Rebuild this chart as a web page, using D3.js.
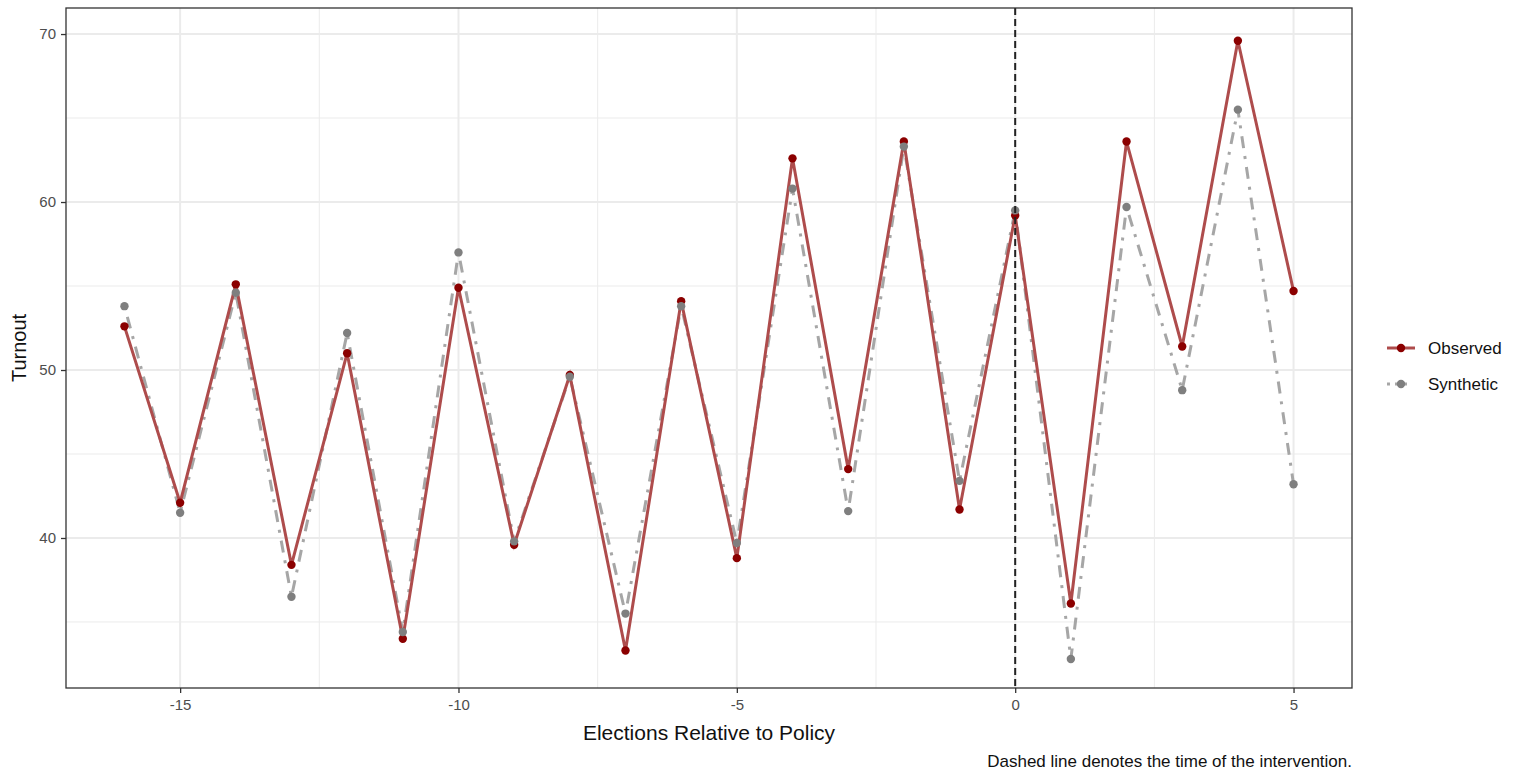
<!DOCTYPE html>
<html>
<head>
<meta charset="utf-8">
<script src="https://cdn.jsdelivr.net/npm/d3@7"></script>
<style>
  body { margin: 0; background: #fff; }
  svg { font-family: "Liberation Sans", Arial, sans-serif; }
</style>
</head>
<body>
<svg id="chart" width="1522" height="776"></svg>
<script>
// elections relative to policy
var elections = [-16, -15, -14, -13, -12, -11, -10, -9, -8, -7, -6, -5, -4, -3, -2, -1, 0, 1, 2, 3, 4, 5];
var observed  = [52.6, 42.1, 55.1, 38.4, 51.0, 34.0, 54.9, 39.6, 49.7, 33.3, 54.1, 38.8, 62.6, 44.1, 63.6, 41.7, 59.2, 36.1, 63.6, 51.4, 69.6, 54.7];
var synthetic = [53.8, 41.5, 54.6, 36.5, 52.2, 34.4, 57.0, 39.8, 49.6, 35.5, 53.8, 39.7, 60.8, 41.6, 63.3, 43.4, 59.5, 32.8, 59.7, 48.8, 65.5, 43.2];
var xTicks = [-15, -10, -5, 0, 5];
var yTicks = [40, 50, 60, 70];
var seriesNames = ["Observed", "Synthetic"];

(function() {
  var svg = d3.select("#chart");
  var pLeft = 66, pRight = 1352, pTop = 8, pBottom = 688;

  var x = d3.scaleLinear().domain([-17.05, 6.05]).range([pLeft, pRight]);
  var y = d3.scaleLinear().domain([31.07, 71.55]).range([pBottom, pTop]);

  var obsLine = "rgb(174,76,76)", obsPt = "#8b0000";
  var synLine = "rgb(166,166,166)", synPt = "#7f7f7f";

  // grid
  var g = svg.append("g");
  var yMinor = [35, 45, 55, 65], xMinor = [-12.5, -7.5, -2.5, 2.5];
  g.selectAll("line.ym").data(yMinor).enter().append("line")
    .attr("x1", pLeft).attr("x2", pRight).attr("y1", y).attr("y2", y)
    .attr("stroke", "#ebebeb").attr("stroke-width", 1);
  g.selectAll("line.xm").data(xMinor).enter().append("line")
    .attr("y1", pTop).attr("y2", pBottom).attr("x1", x).attr("x2", x)
    .attr("stroke", "#ebebeb").attr("stroke-width", 1);
  g.selectAll("line.yM").data(yTicks).enter().append("line")
    .attr("x1", pLeft).attr("x2", pRight).attr("y1", y).attr("y2", y)
    .attr("stroke", "#ebebeb").attr("stroke-width", 2);
  g.selectAll("line.xM").data(xTicks).enter().append("line")
    .attr("y1", pTop).attr("y2", pBottom).attr("x1", x).attr("x2", x)
    .attr("stroke", "#ebebeb").attr("stroke-width", 2);

  var line = function(vals) {
    return d3.line().x(function(d, i) { return x(elections[i]); })
      .y(function(d) { return y(d); })(vals);
  };

  svg.append("path").attr("d", line(synthetic))
    .attr("fill", "none").attr("stroke", synLine).attr("stroke-width", 3)
    .attr("stroke-dasharray", "3 8 12 8");
  svg.append("path").attr("d", line(observed))
    .attr("fill", "none").attr("stroke", obsLine).attr("stroke-width", 3);

  svg.selectAll("circle.obs").data(observed).enter().append("circle")
    .attr("cx", function(d, i) { return x(elections[i]); })
    .attr("cy", function(d) { return y(d); }).attr("r", 4.2).attr("fill", obsPt);
  svg.selectAll("circle.syn").data(synthetic).enter().append("circle")
    .attr("cx", function(d, i) { return x(elections[i]); })
    .attr("cy", function(d) { return y(d); }).attr("r", 4.2).attr("fill", synPt);

  // intervention line
  svg.append("line").attr("x1", x(0)).attr("x2", x(0)).attr("y1", pTop).attr("y2", pBottom)
    .attr("stroke", "#222").attr("stroke-width", 2).attr("stroke-dasharray", "7 4");

  // panel border
  svg.append("rect").attr("x", pLeft).attr("y", pTop).attr("width", pRight - pLeft).attr("height", pBottom - pTop)
    .attr("fill", "none").attr("stroke", "#333").attr("stroke-width", 1.3);

  // axes
  var fmt = function(d) { return String(d); };
  var xAxis = svg.append("g").attr("transform", "translate(0," + pBottom + ")")
    .call(d3.axisBottom(x).tickValues(xTicks).tickFormat(fmt).tickSize(5).tickPadding(6));
  var yAxis = svg.append("g").attr("transform", "translate(" + pLeft + ",0)")
    .call(d3.axisLeft(y).tickValues(yTicks).tickFormat(fmt).tickSize(5).tickPadding(5));
  [xAxis, yAxis].forEach(function(a) {
    a.select(".domain").remove();
    a.selectAll(".tick line").attr("stroke", "#333").attr("stroke-width", 1.3);
    a.selectAll(".tick text").attr("fill", "#4d4d4d").style("font-size", "15px")
      .style("font-family", "'Liberation Sans', Arial, sans-serif");
  });

  svg.append("text").attr("x", (pLeft + pRight) / 2).attr("y", 740)
    .attr("text-anchor", "middle").style("font-size", "21px").attr("fill", "#111")
    .text("Elections Relative to Policy");
  svg.append("text").attr("transform", "translate(26," + ((pTop + pBottom) / 2) + ") rotate(-90)")
    .attr("text-anchor", "middle").style("font-size", "20px").attr("fill", "#111")
    .text("Turnout");
  svg.append("text").attr("x", pRight).attr("y", 767)
    .attr("text-anchor", "end").style("font-size", "17px").attr("fill", "#111")
    .text("Dashed line denotes the time of the intervention.");

  // legend
  var legend = svg.append("g").attr("transform", "translate(1386,0)");
  var legY = [348, 384];
  seriesNames.forEach(function(name, i) {
    var row = legend.append("g").attr("transform", "translate(0," + legY[i] + ")");
    row.append("line").attr("x1", 1).attr("x2", 29).attr("y1", 0).attr("y2", 0)
      .attr("stroke", i === 0 ? obsLine : synLine).attr("stroke-width", 3)
      .attr("stroke-dasharray", i === 0 ? null : "3 5 12 8");
    row.append("circle").attr("cx", 15).attr("cy", 0).attr("r", 4.2)
      .attr("fill", i === 0 ? obsPt : synPt);
    row.append("text").attr("x", 42).attr("y", 6).style("font-size", "17px")
      .attr("fill", "#111").text(name);
  });
})();
</script>
</body>
</html>
